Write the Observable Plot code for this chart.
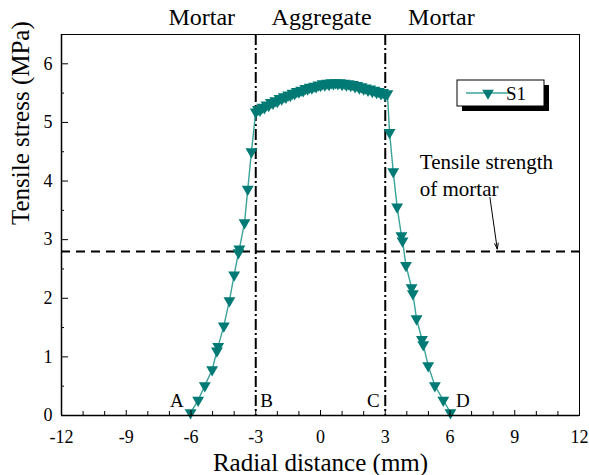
<!DOCTYPE html>
<html><head><meta charset="utf-8">
<script src="https://cdn.jsdelivr.net/npm/d3@7"></script>
<script src="https://cdn.jsdelivr.net/npm/@observablehq/plot@0.6"></script>
<style>body{margin:0;background:#fff}</style>
</head><body><div id="chart"></div>
<script>
// Data
const radialX = [-6.02, -5.67, -5.36, -5.02, -4.80, -4.74, -4.48, -4.22, -4.00, -3.80, -3.76, -3.52, -3.37, -3.20,
  -3.0, -2.9, -2.8, -2.7, -2.6, -2.5, -2.4, -2.3, -2.2, -2.1, -2.0, -1.9, -1.8, -1.7, -1.6, -1.5, -1.4, -1.3, -1.2, -1.1,
  -1.0, -0.9, -0.8, -0.7, -0.6, -0.5, -0.4, -0.3, -0.2, -0.1, 0.0, 0.1, 0.2, 0.3, 0.4, 0.5, 0.6, 0.7, 0.8, 0.9,
  1.0, 1.1, 1.2, 1.3, 1.4, 1.5, 1.6, 1.7, 1.8, 1.9, 2.0, 2.1, 2.2, 2.3, 2.4, 2.5, 2.6, 2.7, 2.8, 2.9, 3.0, 3.1,
  3.20, 3.37, 3.55, 3.75, 3.80, 3.96, 4.22, 4.28, 4.45, 4.70, 4.76, 4.99, 5.30, 5.69, 6.02];
const stressS1 = [0.05, 0.26, 0.51, 0.78, 1.10, 1.18, 1.53, 1.96, 2.40, 2.78, 2.84, 3.29, 3.86, 4.50,
  5.18, 5.22, 5.21, 5.26, 5.25, 5.30, 5.29, 5.34, 5.33, 5.37, 5.36, 5.41, 5.40, 5.44, 5.43, 5.47, 5.46, 5.50, 5.49, 5.53,
  5.52, 5.55, 5.54, 5.58, 5.57, 5.60, 5.59, 5.62, 5.61, 5.64, 5.63, 5.66, 5.64, 5.67, 5.65, 5.68, 5.66, 5.68, 5.66, 5.68,
  5.65, 5.67, 5.64, 5.66, 5.63, 5.65, 5.61, 5.63, 5.59, 5.61, 5.57, 5.59, 5.55, 5.57, 5.53, 5.55, 5.51, 5.53, 5.49, 5.51, 5.47, 5.49,
  4.83, 4.16, 3.56, 3.07, 2.98, 2.56, 2.18, 2.08, 1.65, 1.30, 1.21, 0.85, 0.51, 0.26, 0.05];
const seriesName = "S1";
const xMajorTicks = [-12, -9, -6, -3, 0, 3, 6, 9, 12];
const xMinorTicks = [-11, -10, -8, -7, -5, -4, -2, -1, 1, 2, 4, 5, 7, 8, 10, 11];
const yMajorTicks = [0, 1, 2, 3, 4, 5, 6];
const yMinorTicks = [0.5, 1.5, 2.5, 3.5, 4.5, 5.5];
const mortarStrength = 2.8;
const boundaries = [-3, 3];
const regionLabels = ["Mortar", "Aggregate", "Mortar"];
const regionX = [-5.5, 0.05, 5.6];
const pointLabels = ["A", "B", "C", "D"];
const pointLabelX = [-6.65, -2.5, 2.45, 6.6];
const pointLabelY = 0.25;
const noteText = "Tensile strength\nof mortar";
const noteX = 4.6, noteY = 4.54;
const arrowFrom = [7.85, 3.72];
const arrowTo = [8.19, 2.84];

const teal = "#007a74";
const lineTeal = "#3aa39b";
const font = "'Liberation Serif', 'Times New Roman', serif";

const data = radialX.map((x, i) => ({x, y: stressS1[i]}));

const triangleDown = {
  draw(ctx, size) {
    const s = Math.sqrt(size * 4 / Math.sqrt(3));
    const h = s * Math.sqrt(3) / 2;
    ctx.moveTo(-s / 2, -h / 3);
    ctx.lineTo(s / 2, -h / 3);
    ctx.lineTo(0, 2 * h / 3);
    ctx.closePath();
  }
};

function legendMark(index, scales, values, dim) {
  const g = d3.create("svg:g");
  const x0 = dim.width - dim.marginRight - 122, y0 = dim.marginTop + 46;
  const w = 87, h = 26;
  g.append("rect").attr("x", x0 + 5).attr("y", y0 + 5).attr("width", w).attr("height", h).attr("fill", "black");
  g.append("rect").attr("x", x0).attr("y", y0).attr("width", w).attr("height", h).attr("fill", "white").attr("stroke", "black").attr("stroke-width", 1);
  g.append("line").attr("x1", x0 + 9).attr("x2", x0 + 53).attr("y1", y0 + 13).attr("y2", y0 + 13).attr("stroke", lineTeal).attr("stroke-width", 1.5);
  g.append("path").attr("transform", `translate(${x0 + 31},${y0 + 13})`).attr("d", d3.symbol(triangleDown, Math.PI * 4.3 * 4.3)()).attr("fill", teal);
  g.append("text").attr("x", x0 + 59).attr("y", y0 + 20).attr("font-family", font).attr("font-size", 19).attr("fill", "black").text(seriesName);
  return g.node();
}

const chart = Plot.plot({
  width: 589,
  height: 475,
  marginLeft: 61,
  marginRight: 10,
  marginTop: 34,
  marginBottom: 60,
  style: {fontFamily: font, fontSize: "18px", color: "black", background: "white", overflow: "visible"},
  x: {domain: [-12, 12]},
  y: {domain: [0, 6.5]},
  marks: [
    Plot.ruleY([mortarStrength], {stroke: "black", strokeWidth: 2, strokeDasharray: "9,6"}),
    Plot.ruleX(boundaries, {stroke: "black", strokeWidth: 2, strokeDasharray: "11,3,2,3"}),
    Plot.line(data, {x: "x", y: "y", stroke: lineTeal, strokeWidth: 1.4}),
    Plot.dot(data, {x: "x", y: "y", symbol: triangleDown, r: 4.4, fill: teal, stroke: null}),
    Plot.frame({stroke: "black", strokeWidth: 1}),
    Plot.ruleX([-12], {stroke: "black", strokeWidth: 1.5}),
    Plot.ruleY([0], {stroke: "black", strokeWidth: 1.5}),
    Plot.axisX({ticks: xMajorTicks, tickSize: -5, tickPadding: 20, fontSize: 18, label: null, tickFormat: d => String(d)}),
    Plot.axisX({ticks: xMinorTicks, tickSize: -4, tickFormat: () => "", label: null}),
    Plot.axisY({ticks: yMajorTicks, tickSize: -7, tickPadding: 16, fontSize: 18, label: null, tickFormat: d => String(d)}),
    Plot.axisY({ticks: yMinorTicks, tickSize: -3, tickFormat: () => "", label: null}),
    Plot.text(["Radial distance (mm)"], {frameAnchor: "bottom", lineAnchor: "middle", dy: 47, fontSize: 25, fill: "black"}),
    Plot.text(["Tensile stress (MPa)"], {frameAnchor: "left", lineAnchor: "middle", dx: -41, rotate: -90, fontSize: 25, fill: "black"}),
    Plot.text(regionLabels, {x: (d, i) => regionX[i], frameAnchor: "top", lineAnchor: "middle", dy: -17, fontSize: 24, fill: "black"}),
    Plot.text(pointLabels, {x: (d, i) => pointLabelX[i], y: () => pointLabelY, fontSize: 19, fill: "black"}),
    Plot.text([noteText], {x: () => noteX, y: () => noteY, textAnchor: "start", lineAnchor: "top", lineHeight: 1.3, fontSize: 21, fill: "black"}),
    Plot.arrow([0], {x1: () => arrowFrom[0], y1: () => arrowFrom[1], x2: () => arrowTo[0], y2: () => arrowTo[1], stroke: "black", strokeWidth: 1, headLength: 9, headAngle: 35}),
    legendMark
  ]
});
document.getElementById("chart").appendChild(chart);
</script>
</body></html>
